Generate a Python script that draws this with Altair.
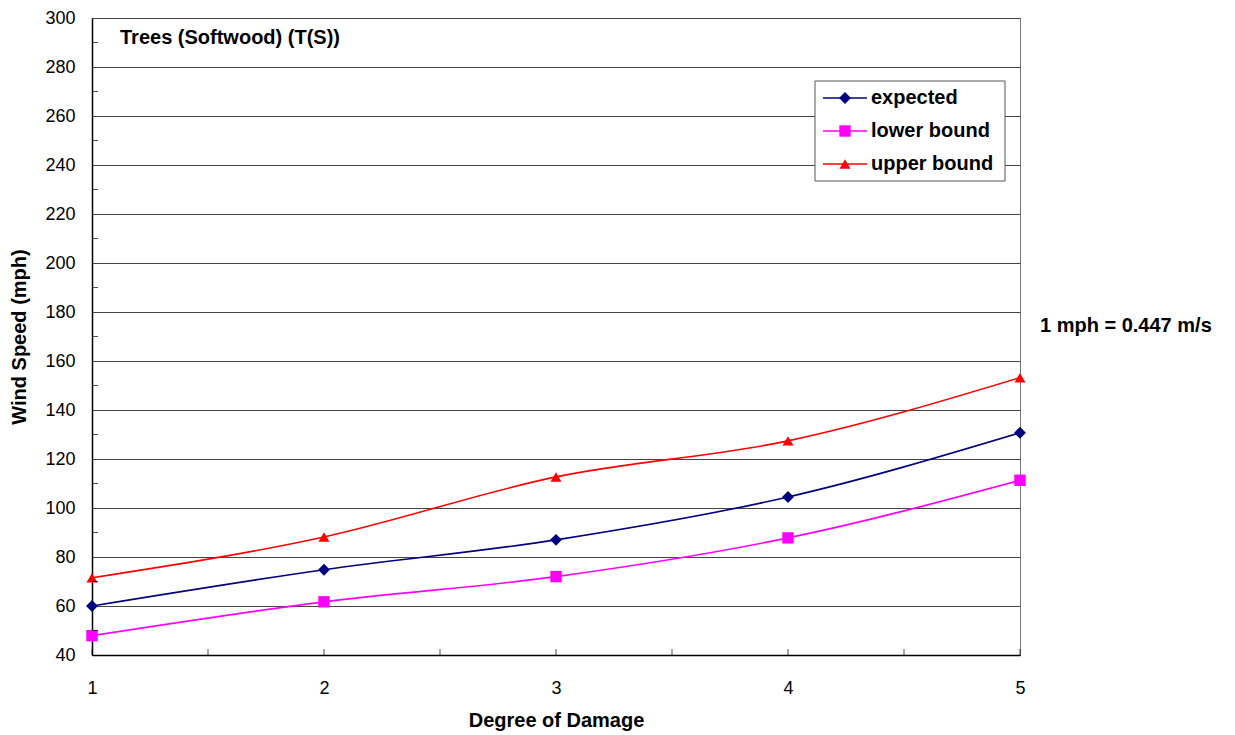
import altair as alt
import pandas as pd

degrees = [1, 2, 3, 4, 5]
expected = [60.0, 74.8, 87.0, 104.5, 130.7]
lower = [47.9, 61.7, 72.0, 87.8, 111.3]
upper = [71.5, 88.2, 112.7, 127.4, 153.2]

series_names = ["expected", "lower bound", "upper bound"]
series_colors = ["#000080", "#FF00FF", "#FF0000"]
series_shapes = ["diamond", "square", "triangle-up"]
series_sizes = [140, 120, 150]

y_major = list(range(40, 301, 20))
y_minor = list(range(50, 300, 20))
x_ticks = [1, 1.5, 2, 2.5, 3, 3.5, 4, 4.5, 5]

chart_title = "Trees (Softwood) (T(S))"
note = "1 mph = 0.447 m/s"

rows = []
for name, vals in zip(series_names, [expected, lower, upper]):
    for d, v in zip(degrees, vals):
        rows.append({"degree": d, "speed": v, "series": name})
df = pd.DataFrame(rows)

FONT = "Liberation Sans"
W, H = 928, 637
LBL = 18
TTL = 20

color_scale = alt.Scale(domain=series_names, range=series_colors)
shape_scale = alt.Scale(domain=series_names, range=series_shapes)
size_scale = alt.Scale(domain=series_names, range=series_sizes)
x_scale = alt.Scale(domain=[1, 5], nice=False, zero=False)
y_scale = alt.Scale(domain=[40, 300], nice=False, zero=False)

base = alt.Chart(df)

lines = base.mark_line(interpolate="monotone", strokeWidth=1.6).encode(
    x=alt.X("degree:Q", scale=x_scale, title="Degree of Damage",
            axis=alt.Axis(values=degrees, format="d", grid=False, ticks=False,
                          labelPadding=24, titlePadding=13, domainColor="black",
                          domainWidth=1.5, labelFlush=False, labelOverlap=False,
                          labelFont=FONT, labelFontSize=LBL, labelColor="black",
                          titleFont=FONT, titleFontSize=TTL, titleFontWeight="bold",
                          titleColor="black")),
    y=alt.Y("speed:Q", scale=y_scale, title="Wind Speed (mph)",
            axis=alt.Axis(values=y_major, grid=True, gridColor="#444444", gridWidth=1,
                          ticks=False, labelPadding=17, titlePadding=15,
                          domainColor="black", domainWidth=1.5, labelFlush=False,
                          labelOverlap=False,
                          labelFont=FONT, labelFontSize=LBL, labelColor="black",
                          titleFont=FONT, titleFontSize=TTL, titleFontWeight="bold",
                          titleColor="black")),
    color=alt.Color("series:N", scale=color_scale, legend=None),
)

points = base.mark_point(filled=True, opacity=1).encode(
    x=alt.X("degree:Q", scale=x_scale),
    y=alt.Y("speed:Q", scale=y_scale),
    color=alt.Color("series:N", scale=color_scale, legend=None),
    shape=alt.Shape("series:N", scale=shape_scale, legend=None),
    size=alt.Size("series:N", scale=size_scale, legend=None),
)

xt = alt.Chart(pd.DataFrame({"xt": x_ticks})).mark_tick(
    orient="vertical", size=6, color="black", thickness=1
).encode(x=alt.X("xt:Q", scale=x_scale), y=alt.value(H - 3))

yt = alt.Chart(pd.DataFrame({"yt": y_minor})).mark_tick(
    orient="horizontal", size=6, color="black", thickness=1
).encode(y=alt.Y("yt:Q", scale=y_scale), x=alt.value(3))

title_txt = alt.Chart(pd.DataFrame({"t": [chart_title]})).mark_text(
    align="left", baseline="middle", font=FONT, fontSize=TTL, fontWeight="bold", color="black"
).encode(text="t:N", x=alt.value(28), y=alt.value(20))

note_txt = alt.Chart(pd.DataFrame({"t": [note]})).mark_text(
    align="left", baseline="middle", font=FONT, fontSize=TTL, fontWeight="bold", color="black"
).encode(text="t:N", x=alt.value(948), y=alt.value(308))

# custom legend
leg_df = pd.DataFrame({"series": series_names, "order": [0, 1, 2]})
off = alt.YOffset("order:Q", scale=alt.Scale(domain=[0, 2], range=[0, 66]))

leg_box = alt.Chart(pd.DataFrame({"b": [1]})).mark_rect(
    fill="white", stroke="#555555", strokeWidth=1
).encode(x=alt.value(723), x2=alt.value(913), y=alt.value(63), y2=alt.value(163))

leg_rule = alt.Chart(leg_df).mark_rule(strokeWidth=1.6).encode(
    x=alt.value(731), x2=alt.value(775), y=alt.value(80), yOffset=off,
    color=alt.Color("series:N", scale=color_scale, legend=None),
)
leg_pt = alt.Chart(leg_df).mark_point(filled=True, opacity=1).encode(
    x=alt.value(753), y=alt.value(80), yOffset=off,
    color=alt.Color("series:N", scale=color_scale, legend=None),
    shape=alt.Shape("series:N", scale=shape_scale, legend=None),
    size=alt.Size("series:N", scale=size_scale, legend=None),
)
leg_txt = alt.Chart(leg_df).mark_text(
    align="left", baseline="middle", font=FONT, fontSize=TTL, fontWeight="bold", color="black"
).encode(x=alt.value(779), y=alt.value(80), yOffset=off, text="series:N")

chart = alt.layer(
    lines, points, xt, yt, title_txt, note_txt, leg_box, leg_rule, leg_pt, leg_txt
).properties(
    width=W, height=H,
    autosize=alt.AutoSizeParams(type="none"),
    padding={"left": 84, "top": 10, "right": 207, "bottom": 80},
    background="white",
).configure_view(
    stroke="#777777", strokeWidth=1
)

chart.save("out.html", embed_options={"renderer": "svg", "actions": False})
